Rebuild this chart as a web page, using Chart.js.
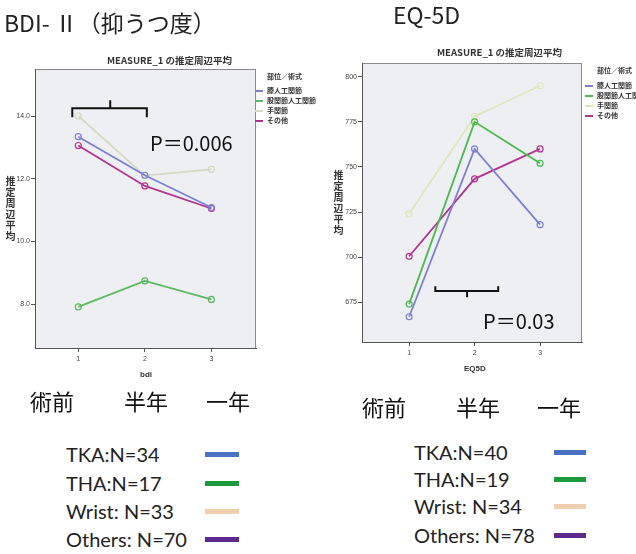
<!DOCTYPE html>
<html><head><meta charset="utf-8">
<script src="https://cdn.jsdelivr.net/npm/chart.js@4/dist/chart.umd.min.js"></script>
<style>
body{margin:0;background:#fff;width:636px;height:554px;overflow:hidden;position:relative;font-family:"Noto Sans CJK JP","Noto Sans",sans-serif;color:#111;}
.a{position:absolute;white-space:nowrap;line-height:1;}
.big{font-size:23px;color:#222;}
.jp{font-size:22px;color:#111;}
.leg{font-family:Lato,"Noto Sans",sans-serif;font-size:20px;color:#222;}
.sw{position:absolute;height:5px;}
.ttl{font-family:"Noto Sans CJK JP",sans-serif;font-weight:bold;font-size:9.5px;color:#333;}
.sp{font-family:"Noto Sans CJK JP",sans-serif;font-size:7px;color:#333;font-weight:bold;}
.spl{position:absolute;height:1.5px;}
.vt{writing-mode:vertical-rl;text-orientation:upright;font-weight:bold;font-size:10px;color:#333;letter-spacing:1px;}
.ax{font-family:"Liberation Sans",Arial,sans-serif;font-weight:bold;font-size:8px;color:#333;}
.p{font-size:20px;color:#111;}
canvas{position:absolute;top:0;}
</style></head><body>
<canvas id="c1" width="320" height="390" style="left:0"></canvas>
<canvas id="c2" width="316" height="390" style="left:320px"></canvas>
<div id="txt"></div>
<script>
// ---- data ----
const timepoints = [1, 2, 3];
const timeLabels = ['術前', '半年', '一年'];
const groups = ['TKA', 'THA', 'Wrist', 'Others'];
const groupsJa = ['膝人工関節', '股関節人工関節', '手関節', 'その他'];
const bdiTKA = [13.34, 12.11, 11.08];
const bdiTHA = [7.91, 8.74, 8.15];
const bdiWrist = [14.0, 12.1, 12.3];
const bdiOthers = [13.06, 11.77, 11.05];
const eqTKA = [667, 760, 718];
const eqTHA = [674, 775, 752];
const eqWrist = [724, 778, 795];
const eqOthers = [700.5, 743.4, 760];
const bdiTicks = [8, 10, 12, 14];
const eqTicks = [675, 700, 725, 750, 775, 800];
const bdiN = [34, 17, 33, 70];
const eqN = [40, 19, 34, 78];
const bdiP = 'P＝0.006';
const eqP = 'P＝0.03';

const lineColorsL = ['#7c80d2', '#5db862', '#d6d9c2', '#b2358c'];
const lineColorsR = ['#7e7fd4', '#4fb84f', '#e0e6bc', '#b0368e'];
const swatchColors = ['#4a72c0', '#1e9a3e', '#efcfb0', '#5b2a8c'];

const plotPlugin = {
  id: 'plotbg',
  beforeDraw(chart) {
    const {ctx, chartArea: a} = chart;
    ctx.save();
    ctx.fillStyle = '#eeeff3';
    ctx.fillRect(a.left, a.top, a.right - a.left, a.bottom - a.top);
    ctx.strokeStyle = '#8a8a8a';
    ctx.lineWidth = 1;
    ctx.strokeRect(a.left + 0.5, a.top + 0.5, a.right - a.left - 1, a.bottom - a.top);
    ctx.restore();
  },
  afterDraw(chart) {
    const br = chart.options.plugins.plotbg.bracket;
    const {ctx} = chart;
    const xs = chart.scales.x, ys = chart.scales.y;
    ctx.save();
    ctx.strokeStyle = '#111';
    ctx.lineWidth = 2;
    const x1 = xs.getPixelForValue(br.x1), x2 = xs.getPixelForValue(br.x2), xm = xs.getPixelForValue(br.xm);
    const yl = ys.getPixelForValue(br.y), ye = ys.getPixelForValue(br.yEnd), yt = ys.getPixelForValue(br.yTip);
    ctx.beginPath();
    ctx.moveTo(x1, ye); ctx.lineTo(x1, yl); ctx.lineTo(x2, yl); ctx.lineTo(x2, ye);
    ctx.moveTo(xm, yl); ctx.lineTo(xm, yt);
    ctx.stroke();
    ctx.restore();
  }
};

function makeChart(id, series, colors, ticks, fmt, yMin, yMax, xMin, xMax, pad, yW, xH, bracket) {
  return new Chart(document.getElementById(id), {
    type: 'line',
    data: {
      datasets: series.map((s, i) => ({
        label: groups[i],
        data: timepoints.map((t, j) => ({x: t, y: s[j]})),
        borderColor: colors[i],
        backgroundColor: 'rgba(0,0,0,0)',
        pointBorderColor: colors[i],
        pointBackgroundColor: 'rgba(0,0,0,0)',
        pointRadius: 3,
        pointBorderWidth: 1.2,
        borderWidth: 1.8,
        tension: 0,
        fill: false
      }))
    },
    options: {
      responsive: false,
      animation: false,
      layout: {padding: pad},
      plugins: {legend: {display: false}, tooltip: {enabled: false}, title: {display: false}, plotbg: {bracket}},
      scales: {
        x: {
          type: 'linear', min: xMin, max: xMax,
          afterBuildTicks: s => { s.ticks = timepoints.map(v => ({value: v})); },
          afterFit: s => { s.height = xH; },
          grid: {display: true, drawOnChartArea: false, drawTicks: true, tickLength: 4, color: '#555'},
          border: {display: true, color: '#555', width: 1},
          ticks: {font: {size: 7, family: 'Liberation Sans'}, color: '#444', padding: 3, callback: v => String(v), maxRotation: 0}
        },
        y: {
          min: yMin, max: yMax,
          afterBuildTicks: s => { s.ticks = ticks.map(v => ({value: v})); },
          afterFit: s => { s.width = yW; },
          grid: {display: true, drawOnChartArea: false, drawTicks: true, tickLength: 4, color: '#555'},
          border: {display: true, color: '#555', width: 1},
          ticks: {font: {size: 7, family: 'Liberation Sans'}, color: '#444', padding: 1, callback: fmt}
        }
      }
    },
    plugins: [plotPlugin]
  });
}

makeChart('c1', [bdiTKA, bdiTHA, bdiWrist, bdiOthers], lineColorsL, bdiTicks, v => v.toFixed(1),
  6.6, 15.5, 0.35, 3.67, {top: 69, right: 64, bottom: 22, left: 0}, 35, 20,
  {x1: 0.91, x2: 2.03, xm: 1.48, y: 14.25, yEnd: 13.96, yTip: 14.5});
makeChart('c2', [eqTKA, eqTHA, eqWrist, eqOthers], lineColorsR, eqTicks, v => String(v),
  653, 807.6, 0.28, 3.64, {top: 63, right: 54, bottom: 28, left: 0}, 42, 20,
  {x1: 1.4, x2: 2.36, xm: 1.885, y: 681.3, yEnd: 683.9, yTip: 677.8});

// ---- text elements ----
const T = document.getElementById('txt');
function add(cls, text, x, y, extra) {
  const d = document.createElement('div');
  d.className = 'a ' + cls;
  d.textContent = text;
  d.style.left = x + 'px'; d.style.top = y + 'px';
  if (extra) Object.assign(d.style, extra);
  T.appendChild(d);
  return d;
}
function sw(x, y, w, h, c) {
  const d = document.createElement('div');
  d.className = 'sw';
  Object.assign(d.style, {left: x + 'px', top: y + 'px', width: w + 'px', height: h + 'px', background: c});
  T.appendChild(d);
}
add('big', 'BDI- Ⅱ（抑うつ度）', 4, 11);
add('big', 'EQ-5D', 393, 3);
add('ttl', 'MEASURE_1 の推定周辺平均', 107, 56);
add('ttl', 'MEASURE_1 の推定周辺平均', 437, 48);
add('vt', '推定周辺平均', 5, 176);
add('vt', '推定周辺平均', 333, 170);
add('ax', 'bdi', 140, 371);
add('ax', 'EQ5D', 464, 365);
add('p', bdiP, 150, 133);
add('p', eqP, 483, 311);

// SPSS legends
function spssLegend(x, yHead, ys, colors) {
  add('sp', '部位／術式', x + 12, yHead - 4);
  ys.forEach((y, i) => {
    const d = document.createElement('div');
    d.className = 'spl';
    Object.assign(d.style, {left: x + 'px', top: (y - 0.75) + 'px', width: '8px', background: colors[i]});
    T.appendChild(d);
    add('sp', groupsJa[i], x + 12, y - 4);
  });
}
spssLegend(255, 77, [91, 101, 111, 121], lineColorsL);
spssLegend(585, 71, [86, 96, 106, 116], lineColorsR);

// time labels
[30, 124, 206].forEach((x, i) => add('jp', timeLabels[i], x, 389));
[362, 456, 537].forEach((x, i) => add('jp', timeLabels[i], x, 395));

// bottom legends
const legL = [454, 483, 511, 539], legR = [452, 479, 506, 535];
const names = ['TKA:N=', 'THA:N=', 'Wrist: N=', 'Others: N='];
legL.forEach((y, i) => { add('leg', names[i] + bdiN[i], 66, y - 10); sw(205, y - 2, 34, 5, swatchColors[i]); });
legR.forEach((y, i) => { add('leg', names[i] + eqN[i], 414, y - 10); sw(554, y - 2, 32, 5, swatchColors[i]); });
</script>
</body></html>
